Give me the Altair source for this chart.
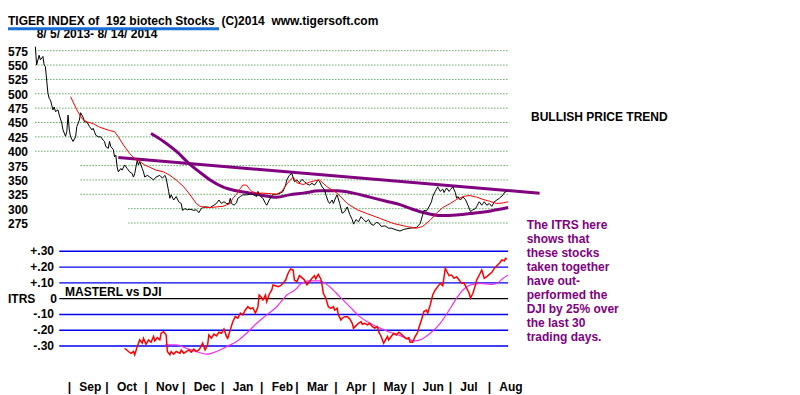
import altair as alt
import pandas as pd

START = "2013-08-05"
FONT = "Liberation Sans"

# ---- Price panel (x = calendar days since 2013-08-05) ----
price_day = [0, 1, 3, 4, 6, 7, 8, 9, 10, 11, 12, 14, 15, 16, 18, 19, 21, 22, 24, 25, 26, 27, 28, 30, 32, 33, 35, 36, 38, 39,
             41, 43, 45, 46, 48, 50, 52, 54, 55, 56, 58, 59, 60, 62, 63, 64, 65, 66, 68, 69, 71, 73, 75, 77, 78, 79, 81, 82, 83, 85,
             86, 87, 89, 91, 94, 96, 99, 101, 103, 104, 106, 107, 108, 110, 112, 114, 116, 117, 119, 121, 123, 126, 128, 130, 132, 134, 136, 139, 142, 144,
             146, 148, 150, 152, 154, 155, 156, 158, 160, 161, 163, 165, 168, 171, 173, 176, 177, 179, 181, 183, 184, 186, 189, 192, 195, 197, 199, 200, 202, 204,
             206, 208, 210, 212, 214, 216, 218, 220, 222, 224, 225, 226, 228, 230, 231, 233, 234, 236, 237, 239, 240, 242, 243, 244, 246, 248, 250, 252, 253, 255,
             257, 259, 261, 263, 265, 267, 269, 271, 273, 275, 278, 281, 283, 287, 290, 293, 298, 303, 306, 308, 309, 311, 313, 315, 316, 318, 320, 322, 324, 325,
             327, 329, 330, 332, 334, 335, 336, 338, 340, 342, 344, 346, 348, 350, 351, 353, 355, 357, 359, 361, 363, 365, 367, 369, 372, 373, 375]
price_val = [582, 550, 567, 559, 565, 550, 547, 524, 501, 492, 489, 472, 477, 469, 472, 463, 449, 437, 426, 434, 463, 437, 425, 417, 425, 443, 454, 467, 459, 451,
             451, 443, 437, 440, 428, 425, 425, 419, 417, 408, 405, 417, 408, 403, 390, 393, 373, 364, 370, 367, 376, 370, 364, 361, 355, 361, 384, 376, 382, 370,
             364, 355, 358, 355, 350, 355, 358, 353, 358, 353, 330, 318, 324, 315, 321, 312, 309, 297, 300, 298, 299, 297, 298, 293, 300, 303, 303, 302, 306, 309,
             315, 309, 312, 309, 309, 318, 309, 306, 310, 318, 321, 324, 324, 325, 325, 321, 330, 321, 318, 309, 306, 315, 325, 325, 327, 330, 341, 350, 358, 361,
             347, 350, 345, 351, 347, 343, 341, 344, 341, 347, 350, 347, 338, 333, 324, 312, 309, 315, 309, 320, 324, 309, 300, 292, 295, 303, 290, 281, 273, 281,
             277, 286, 281, 277, 281, 273, 271, 276, 275, 269, 270, 266, 266, 263, 261, 264, 266, 267, 274, 289, 297, 296, 303, 312, 321, 330, 338, 330, 334, 328,
             336, 330, 333, 338, 328, 318, 321, 315, 320, 316, 306, 295, 298, 300, 304, 312, 306, 312, 306, 309, 304, 312, 315, 318, 324, 328, 330]

ma_day = [28, 33, 37, 41, 46, 51, 59, 63, 66, 70, 75, 79, 83, 87, 91, 96, 102, 107, 112, 118, 122, 126, 128, 131, 135, 139, 144, 149, 155, 157,
          160, 163, 165, 168, 170, 172, 176, 181, 187, 192, 196, 200, 205, 208, 213, 218, 223, 226, 232, 240, 248, 256, 263, 274, 285, 295, 303, 308, 314, 319,
          324, 330, 335, 340, 345, 351, 356, 361, 367, 372, 376]
ma_val = [495, 472, 457, 451, 448, 442, 436, 434, 425, 411, 396, 387, 382, 376, 372, 367, 364, 358, 350, 338, 327, 315, 309, 304, 302, 302, 303, 304, 309, 318,
          325, 335, 341, 341, 335, 330, 327, 327, 326, 325, 330, 343, 355, 345, 342, 346, 349, 350, 338, 327, 309, 298, 292, 283, 274, 269, 266, 269, 280, 292,
          302, 309, 316, 321, 323, 320, 316, 313, 309, 310, 312]

ma50_day = [92, 102, 112, 123, 131, 139, 149, 160, 171, 181, 192, 202, 213, 226, 240, 253, 266, 279, 290, 300, 311, 322, 335, 348, 362, 376]
ma50_val = [431, 417, 400, 377, 363, 350, 338, 331, 327, 323, 320, 324, 327, 331, 331, 327, 320, 313, 307, 299, 292, 288, 289, 292, 296, 302]

trend_day = [66, 401]
trend_val = [389, 327]

price_ticks = [575, 550, 525, 500, 475, 450, 425, 400, 375, 350, 325, 300, 275]
grid_from = [0, 0, 0, 0, 0, 0, 0, 0, 36, 36, 36, 74, 74]
grid_to = 376

# ---- ITRS panel ----
itrs_day = [71, 74, 76, 78, 79, 81, 83, 85, 86, 88, 90, 92, 94, 95, 97, 99, 100, 102, 104, 105, 107, 108, 110, 112, 115, 116, 118, 120, 122, 124,
            126, 128, 130, 131, 133, 135, 137, 138, 140, 142, 144, 146, 148, 150, 152, 153, 155, 157, 159, 161, 163, 165, 167, 169, 171, 173, 175, 177, 178, 180,
            181, 183, 184, 186, 188, 189, 191, 193, 195, 197, 199, 201, 203, 205, 206, 208, 210, 213, 214, 216, 218, 220, 222, 223, 225, 227, 228, 229, 231, 233,
            235, 237, 238, 240, 241, 243, 244, 246, 248, 250, 252, 253, 255, 257, 259, 260, 262, 264, 266, 268, 270, 272, 273, 275, 277, 278, 280, 281, 283, 285,
            287, 289, 291, 293, 295, 297, 298, 300, 302, 304, 305, 307, 309, 311, 312, 314, 316, 318, 320, 322, 324, 326, 328, 329, 331, 333, 335, 337, 339, 341,
            343, 345, 346, 348, 350, 351, 353, 355, 357, 359, 361, 363, 365, 367, 369, 371, 373, 374, 375]
itrs_val = [-0.314, -0.335, -0.346, -0.335, -0.356, -0.304, -0.261, -0.282, -0.251, -0.289, -0.261, -0.276, -0.240, -0.268, -0.247, -0.261, -0.219, -0.209, -0.230, -0.335,
            -0.356, -0.335, -0.352, -0.335, -0.346, -0.325, -0.346, -0.335, -0.325, -0.339, -0.320, -0.335, -0.325, -0.314, -0.282, -0.325, -0.293, -0.230, -0.251, -0.225,
            -0.236, -0.213, -0.219, -0.192, -0.240, -0.251, -0.198, -0.146, -0.114, -0.124, -0.092, -0.103, -0.072, -0.051, -0.065, -0.057, -0.092, -0.051, 0.023, 0.006,
            -0.008, 0.023, -0.019, 0.028, 0.055, 0.087, 0.082, 0.076, 0.082, 0.097, 0.118, 0.161, 0.188, 0.182, 0.118, 0.108, 0.146, 0.125, 0.118, 0.087,
            0.108, 0.129, 0.146, 0.125, 0.154, 0.125, 0.087, 0.034, 0.003, -0.051, -0.061, -0.051, -0.072, -0.061, -0.103, -0.135, -0.124, -0.114, -0.114, -0.128,
            -0.156, -0.187, -0.171, -0.156, -0.146, -0.162, -0.156, -0.166, -0.156, -0.177, -0.187, -0.177, -0.209, -0.240, -0.282, -0.268, -0.240, -0.261, -0.240, -0.219,
            -0.230, -0.213, -0.225, -0.240, -0.255, -0.247, -0.276, -0.276, -0.240, -0.213, -0.184, -0.135, -0.082, -0.072, -0.092, -0.040, 0.023, 0.055, 0.076, 0.097,
            0.082, 0.192, 0.161, 0.146, 0.150, 0.129, 0.139, 0.118, 0.097, 0.097, 0.066, 0.034, 0.003, 0.034, 0.087, 0.118, 0.150, 0.182, 0.129, 0.139,
            0.154, 0.167, 0.192, 0.209, 0.224, 0.245, 0.239, 0.256, 0.251]

itrs_ma_day = [103, 112, 120, 128, 136, 144, 152, 160, 168, 176, 184, 192, 200, 208, 210, 218, 226, 234, 242, 250, 258, 266, 274, 282, 290,
               298, 302, 306, 314, 322, 330, 335, 340, 346, 354, 362, 367, 372, 376]
itrs_ma_val = [-0.293, -0.293, -0.314, -0.335, -0.352, -0.335, -0.304, -0.272, -0.219, -0.156, -0.103, -0.051, 0.023, 0.066, 0.087, 0.112, 0.112, 0.076, 0.013, -0.051,
               -0.114, -0.156, -0.187, -0.213, -0.234, -0.261, -0.268, -0.261, -0.219, -0.156, -0.061, 0.003, 0.055, 0.087, 0.097, 0.091, 0.097, 0.129, 0.150]

itrs_levels = [0.3, 0.2, 0.1, 0.0, -0.1, -0.2, -0.3]
itrs_labels = ["+.30", "+.20", "+.10", "0", "-.10", "-.20", "-.30"]
itrs_from, itrs_to = 19, 376

month_names = ["Sep", "Oct", "Nov", "Dec", "Jan", "Feb", "Mar", "Apr", "May", "Jun", "Jul", "Aug"]
month_starts = ["2013-09-01", "2013-10-01", "2013-11-01", "2013-12-01", "2014-01-01", "2014-02-01",
                "2014-03-01", "2014-04-01", "2014-05-01", "2014-06-01", "2014-07-01", "2014-08-01"]

NB = "\u00a0"
title_text = f"TIGER INDEX of {NB}192 biotech Stocks {NB}(C)2014 {NB}www.tigersoft.com"
date_text = "8/ 5/ 2013- 8/ 14/ 2014"
note_lines = ["The ITRS here", "shows that", "these stocks", "taken together", "have out-",
              "performed the", "DJI by 25% over", "the last 30", "trading days."]

# ---- build tables ----
t0 = pd.Timestamp(START)
price_df = pd.DataFrame({"day": price_day, "v": price_val})
ma_df = pd.DataFrame({"day": ma_day, "v": ma_val})
ma50_df = pd.DataFrame({"day": ma50_day, "v": ma50_val})
trend_df = pd.DataFrame({"day": trend_day, "v": trend_val})
grid_df = pd.DataFrame({"v": price_ticks, "a": grid_from, "b": [grid_to] * len(price_ticks),
                        "label": [str(t) for t in price_ticks]})
itrs_df = pd.DataFrame({"day": itrs_day, "v": itrs_val})
itrs_ma_df = pd.DataFrame({"day": itrs_ma_day, "v": itrs_ma_val})
lev_df = pd.DataFrame({"v": itrs_levels, "a": [itrs_from] * 7, "b": [itrs_to] * 7, "label": itrs_labels,
                       "c": ["#0000ee" if l != 0 else "#000000" for l in itrs_levels]})
month_df = pd.DataFrame({"m": month_names,
                         "day": [(pd.Timestamp(d) - t0).days for d in month_starts], "bar": ["|"] * 12})

OFF = 8
xs = alt.Scale(domain=[0, 374], range=[35.35 - OFF, 505.65 - OFF], nice=False, zero=False)
ysp = alt.Scale(domain=[275, 575], range=[223 - OFF, 50.7 - OFF], nice=False, zero=False)
ysi = alt.Scale(domain=[-0.3, 0.3], range=[346 - OFF, 251.3 - OFF], nice=False, zero=False)

X = lambda f: alt.X(f, type="quantitative", scale=xs, axis=None)
YP = lambda f: alt.Y(f, type="quantitative", scale=ysp, axis=None)
YI = lambda f: alt.Y(f, type="quantitative", scale=ysi, axis=None)
TXT = dict(font=FONT, fontSize=12, fontWeight="bold")


def static(text, x, y, align="left", baseline="middle", color="black", **kw):
    d = dict(TXT)
    d.update(kw)
    return alt.Chart(pd.DataFrame({"t": [text]})).mark_text(
        align=align, baseline=baseline, color=color, **d
    ).encode(text="t:N", x=alt.value(x - OFF), y=alt.value(y - OFF))


grid = alt.Chart(grid_df).mark_rule(color="#118811", strokeDash=[1, 2], strokeWidth=1).encode(
    x=X("a"), x2="b", y=YP("v"))
grid_lab = alt.Chart(grid_df).mark_text(align="right", baseline="middle", dy=1, **TXT).encode(
    x=alt.value(28 - OFF), y=YP("v"), text="label:N")

trend = alt.Chart(trend_df).mark_line(color="#800080", strokeWidth=3).encode(x=X("day"), y=YP("v"))
ma50 = alt.Chart(ma50_df).mark_line(color="#800080", strokeWidth=3, interpolate="monotone").encode(x=X("day"), y=YP("v"))
price = alt.Chart(price_df).mark_line(color="#000000", strokeWidth=1).encode(x=X("day"), y=YP("v"))
ma = alt.Chart(ma_df).mark_line(color="#ff0000", strokeWidth=1).encode(x=X("day"), y=YP("v"))

levels = alt.Chart(lev_df).mark_rule(strokeWidth=1.4).encode(
    x=X("a"), x2="b", y=YI("v"), color=alt.Color("c:N", scale=None))
lev_lab = alt.Chart(lev_df).transform_filter("datum.v != 0").mark_text(align="right", baseline="middle", **TXT).encode(
    x=alt.value(54 - OFF), y=YI("v"), text="label:N")
lev_zero = alt.Chart(lev_df).transform_filter("datum.v == 0").mark_text(align="right", baseline="middle", **TXT).encode(
    x=alt.value(57 - OFF), y=YI("v"), text="label:N")
itrs_ma = alt.Chart(itrs_ma_df).mark_line(color="#f030f0", strokeWidth=1.2, interpolate="monotone").encode(x=X("day"), y=YI("v"))
itrs = alt.Chart(itrs_df).mark_line(color="#ff0000", strokeWidth=1.5).encode(x=X("day"), y=YI("v"))

months = alt.Chart(month_df).mark_text(align="left", baseline="middle", dx=10, **TXT).encode(
    x=X("day"), y=alt.value(386.7 - OFF), text="m:N")
bars = alt.Chart(month_df).mark_text(align="center", baseline="middle", **TXT).encode(
    x=X("day"), y=alt.value(386.7 - OFF), text="bar:N")

title = static(title_text, 8, 25, baseline="alphabetic")
date_line = static(date_text, 36.7, 37.5, baseline="alphabetic")
underline = alt.Chart(pd.DataFrame({"a": [0]})).mark_rule(color="#1a6fd6", strokeWidth=3).encode(
    x=alt.value(0), x2=alt.value(219 - OFF), y=alt.value(28.7 - OFF))
bull = static("BULLISH PRICE TREND", 531, 116.5)
master = static("MASTERL vs DJI", 65, 291.5)
itrs_word = static("ITRS", 8, 298.5)
note = static("\n".join(note_lines), 526.7, 225, color="#800080", lineBreak="\n", lineHeight=14)

chart = alt.layer(
    grid, grid_lab, trend, ma50, price, ma,
    levels, lev_lab, lev_zero, itrs_ma, itrs,
    months, bars, date_line, underline, title, bull, master, itrs_word, note,
).resolve_scale(y="independent").properties(
    width=784, height=387, padding=0, autosize=alt.AutoSizeParams(type="none"),
    background="white",
).configure_view(stroke=None)

chart.save("out.html", embed_options={"renderer": "svg", "actions": False})
